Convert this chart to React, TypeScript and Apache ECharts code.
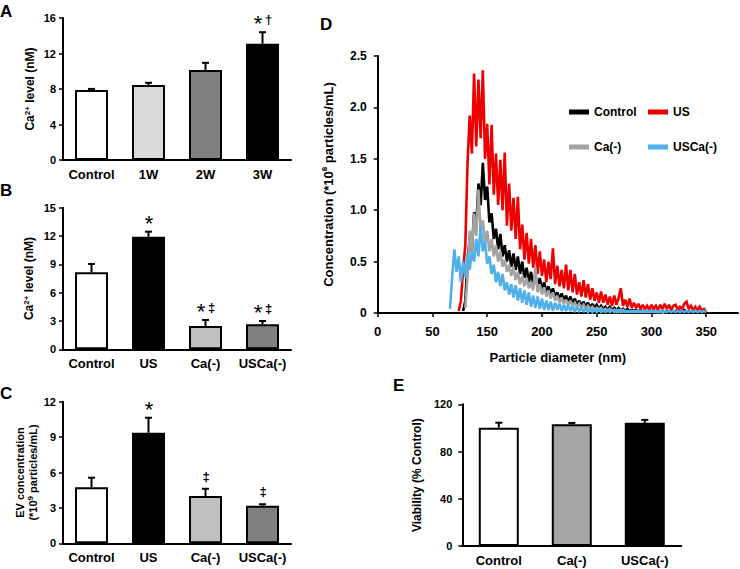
import React, { useEffect, useRef } from "react";
import * as echarts from "echarts";

const FONT = "'Liberation Sans', Arial, Helvetica, sans-serif";

// ---------- Panel A ----------
const catsA = ["Control", "1W", "2W", "3W"];
const meanA = [7.88, 8.45, 10.15, 13.1];
const semA = [0.13, 0.25, 0.8, 1.3];
const sigA = ["", "", "", "*†"];
const fillA = ["#ffffff", "#d9d9d9", "#808080", "#000000"];

// ---------- Panel B ----------
const catsB = ["Control", "US", "Ca(-)", "USCa(-)"];
const meanB = [8.16, 11.93, 2.47, 2.65];
const semB = [0.88, 0.53, 0.64, 0.35];
const sigB = ["", "*", "*‡", "*‡"];
const fillB = ["#ffffff", "#000000", "#c0c0c0", "#808080"];

// ---------- Panel C ----------
const catsC = ["Control", "US", "Ca(-)", "USCa(-)"];
const meanC = [4.75, 9.37, 4.0, 3.19];
const semC = [0.81, 1.27, 0.62, 0.12];
const sigC = ["", "*", "‡", "‡"];
const fillC = ["#ffffff", "#000000", "#c0c0c0", "#808080"];

// ---------- Panel E ----------
const catsE = ["Control", "Ca(-)", "USCa(-)"];
const meanE = [100.2, 103.0, 104.3];
const semE = [4.2, 1.2, 2.5];
const fillE = ["#ffffff", "#a6a6a6", "#000000"];

// ---------- Panel D ----------
const diamTickPos = [0, 50, 100, 150, 200, 250, 300];
const diamTickLabels = ["0", "50", "150", "200", "250", "300", "350"];
const binPos = [
  64, 66, 68, 70, 72, 74, 76, 78, 80, 82,
  84, 86, 88, 90, 92, 94, 96, 98, 100, 102,
  104, 106, 108, 110, 112, 114, 116, 118, 120, 122,
  124, 126, 128, 130, 132, 134, 136, 138, 140, 142,
  144, 146, 148, 150, 152, 154, 156, 158, 160, 162,
  164, 166, 168, 170, 172, 174, 176, 178, 180, 182,
  184, 186, 188, 190, 192, 194, 196, 198, 200, 202,
  204, 206, 208, 210, 212, 214, 216, 218, 220, 222,
  224, 226, 228, 230, 232, 234, 236, 238, 240, 242,
  244, 246, 248, 250, 252, 254, 256, 258, 260, 262,
  264, 266, 268, 270, 272, 274, 276, 278, 280, 282,
  284, 286, 288, 290, 292, 294, 296, 298, 300,
];
const concUS = [
  null, null, null, null, null, 0.02, 0.12, 0.42, 0.66, 1.45,
  1.92, 1.55, 2.33, 1.62, 2.27, 1.7, 2.36, 1.5, 1.84, 1.25,
  1.83, 1.15, 1.55, 1.05, 1.49, 1.0, 1.56, 0.85, 1.26, 0.8,
  1.12, 0.72, 1.13, 0.62, 0.86, 0.52, 0.78, 0.48, 0.72, 0.44,
  0.66, 0.38, 0.6, 0.36, 0.52, 0.3, 0.5, 0.33, 0.63, 0.28,
  0.46, 0.26, 0.42, 0.24, 0.47, 0.22, 0.42, 0.2, 0.38, 0.18,
  0.3, 0.16, 0.32, 0.15, 0.28, 0.13, 0.24, 0.12, 0.2, 0.1,
  0.21, 0.1, 0.18, 0.08, 0.16, 0.07, 0.17, 0.08, 0.15, 0.24,
  0.07, 0.13, 0.06, 0.14, 0.05, 0.1, 0.05, 0.09, 0.04, 0.08,
  0.04, 0.07, 0.03, 0.08, 0.04, 0.07, 0.03, 0.08, 0.04, 0.09,
  0.04, 0.08, 0.03, 0.07, 0.08, 0.03, 0.06, 0.04, 0.09, 0.11,
  0.04, 0.07, 0.03, 0.06, 0.03, 0.06, 0.02, 0.04, 0.01,
];
const concControl = [
  null, null, null, null, null, null, null, 0.02, 0.12, 0.5,
  0.72, 0.6, 0.98, 0.85, 1.26, 1.05, 1.46, 1.1, 1.23, 0.88,
  0.97, 0.72, 0.82, 0.62, 0.77, 0.55, 0.66, 0.5, 0.61, 0.45,
  0.58, 0.42, 0.55, 0.38, 0.5, 0.34, 0.44, 0.3, 0.4, 0.28,
  0.36, 0.25, 0.34, 0.22, 0.3, 0.2, 0.26, 0.18, 0.24, 0.16,
  0.2, 0.14, 0.19, 0.12, 0.17, 0.1, 0.16, 0.09, 0.14, 0.08,
  0.12, 0.07, 0.11, 0.06, 0.1, 0.05, 0.09, 0.05, 0.08, 0.04,
  0.07, 0.04, 0.06, 0.03, 0.06, 0.03, 0.05, 0.03, 0.05, 0.02,
  0.04, 0.02, 0.04, 0.02, 0.03, 0.02, 0.03, 0.01, 0.03, 0.01,
  0.03, 0.01, 0.02, 0.01, 0.03, 0.01, 0.02, 0.01, 0.02, 0.01,
  0.02, 0.01, 0.02, 0.01, 0.02, 0.01, 0.02, 0.01, 0.03, 0.01,
  0.02, 0.01, 0.02, 0.01, 0.01, null, null, null, null,
];
const concCa = [
  null, null, null, null, null, null, null, null, 0.05, 0.35,
  0.8, 0.6, 0.97, 0.75, 1.2, 0.8, 0.9, 0.68, 0.8, 0.6,
  0.72, 0.55, 0.66, 0.5, 0.6, 0.45, 0.52, 0.4, 0.47, 0.36,
  0.45, 0.32, 0.4, 0.28, 0.36, 0.26, 0.34, 0.24, 0.3, 0.22,
  0.45, 0.2, 0.28, 0.18, 0.25, 0.16, 0.22, 0.14, 0.2, 0.12,
  0.17, 0.1, 0.15, 0.09, 0.13, 0.08, 0.12, 0.07, 0.1, 0.06,
  0.09, 0.05, 0.08, 0.04, 0.07, 0.04, 0.06, 0.03, 0.05, 0.03,
  0.05, 0.02, 0.04, 0.02, 0.04, 0.02, 0.03, 0.01, 0.03, 0.01,
  0.03, 0.01, 0.02, 0.01, 0.02, 0.01, 0.02, 0.01, 0.02, 0.01,
  0.02, 0.01, 0.02, 0.01, 0.02, 0.01, 0.01, 0.01, 0.01, 0.0,
  null, null, null, null, null, null, null, null, null, null,
  null, null, null, null, null, null, null, null, null,
];
const concUSCa = [
  null, 0.04, 0.35, 0.62, 0.4, 0.55, 0.3, 0.5, 0.35, 0.58,
  0.42, 0.6, 0.5, 0.72, 0.55, 0.85, 0.6, 0.7, 0.48, 0.55,
  0.38, 0.47, 0.3, 0.4, 0.26, 0.38, 0.22, 0.3, 0.18, 0.28,
  0.15, 0.27, 0.12, 0.24, 0.1, 0.22, 0.08, 0.2, 0.06, 0.17,
  0.05, 0.16, 0.04, 0.14, 0.03, 0.12, 0.03, 0.11, 0.02, 0.1,
  0.03, 0.09, 0.02, 0.08, 0.02, 0.08, 0.02, 0.07, 0.01, 0.06,
  0.02, 0.05, 0.01, 0.05, 0.01, 0.04, 0.01, 0.04, 0.01, 0.04,
  0.01, 0.03, 0.01, 0.03, 0.01, 0.03, 0.01, 0.03, 0.01, 0.03,
  0.01, 0.02, 0.01, 0.02, 0.01, 0.02, 0.01, 0.02, 0.01, 0.02,
  0.01, 0.02, 0.01, 0.02, 0.01, 0.02, 0.01, 0.02, 0.01, 0.02,
  0.01, 0.02, 0.01, 0.02, 0.01, 0.02, 0.01, 0.02, 0.01, 0.02,
  0.01, 0.02, 0.01, 0.02, 0.01, 0.02, 0.01, 0.02, 0.01,
];
const seriesNamesD = ["Control", "US", "Ca(-)", "USCa(-)"];
const seriesColorsD = ["#000000", "#ee0000", "#a3a3a3", "#4fb0ea"];

const richSup = {
  sup: { fontSize: 8, fontWeight: "bold", fontFamily: FONT, verticalAlign: "top", lineHeight: 9 },
};

function sigRich(s: string) {
  return s
    .split("")
    .map((ch) => (ch === "*" ? "{star|*}" : `{dag|${ch}}`))
    .join("{sp| }");
}

function catAxis(gridIndex: number, cats: string[]) {
  return {
    type: "category",
    gridIndex,
    data: cats,
    axisLine: { show: true, lineStyle: { color: "#000", width: 2 } },
    axisTick: { show: false },
    axisLabel: { color: "#000", fontSize: 13, fontWeight: "bold", fontFamily: FONT, margin: 8, interval: 0 },
    splitLine: { show: false },
  };
}

function valAxis(gridIndex: number, max: number, interval: number, name: string, nameGap: number, nameSize: number, labelMargin: number) {
  return {
    type: "value",
    gridIndex,
    min: 0,
    max,
    interval,
    splitLine: { show: false },
    axisLine: { show: true, lineStyle: { color: "#000", width: 2 } },
    axisTick: { show: true, length: 4, lineStyle: { color: "#000", width: 1.5 } },
    axisLabel: { color: "#000", fontSize: 11, fontWeight: "bold", fontFamily: FONT, margin: labelMargin },
    name,
    nameLocation: "middle",
    nameGap,
    nameTextStyle: {
      color: "#000",
      fontSize: nameSize,
      fontWeight: "bold",
      fontFamily: FONT,
      lineHeight: nameSize + 2,
      rich: richSup,
    },
  };
}

function barSeries(g: number, means: number[], fills: string[], width: number) {
  return {
    type: "bar",
    xAxisIndex: g,
    yAxisIndex: g,
    barWidth: width,
    data: means.map((v, i) => ({ value: v, itemStyle: { color: fills[i] } })),
    itemStyle: { borderColor: "#000", borderWidth: 2 },
    z: 2,
  };
}

function errSeries(g: number, means: number[], sems: number[], sigs: string[] | null) {
  return {
    type: "custom",
    xAxisIndex: g,
    yAxisIndex: g,
    z: 3,
    itemStyle: { color: "#000" },
    data: means.map((v, i) => [i, v, v + sems[i]]),
    renderItem: (params: any, api: any) => {
      const i = api.value(0);
      const base = api.coord([i, api.value(1)]);
      const top = api.coord([i, api.value(2)]);
      const children: any[] = [
        { type: "line", shape: { x1: base[0], y1: base[1], x2: top[0], y2: top[1] }, style: { stroke: "#000", lineWidth: 2 } },
        { type: "line", shape: { x1: top[0] - 3.5, y1: top[1], x2: top[0] + 3.5, y2: top[1] }, style: { stroke: "#000", lineWidth: 2 } },
      ];
      const s = sigs ? sigs[params.dataIndex] : "";
      if (s) {
        children.push({
          type: "text",
          x: Math.round(top[0]),
          y: Math.round(top[1] - 13),
          style: {
            text: sigRich(s),
            fill: "#000",
            align: "center",
            verticalAlign: "middle",
            rich: {
              star: { fontSize: 22, fontFamily: FONT, fill: "#000", padding: [9, 0, 0, 0] },
              dag: { fontSize: 13, fontWeight: "bold", fontFamily: FONT, fill: "#000" },
              sp: { fontSize: 10, fontFamily: FONT, fill: "#000" },
            },
          },
        });
      }
      return { type: "group", children };
    },
  };
}

function legendAt(name: string, left: number, top: number) {
  return {
    data: [{ name, icon: "rect" }],
    left,
    top,
    padding: 0,
    itemWidth: 20,
    itemHeight: 5,
    textStyle: { color: "#000", fontSize: 12, fontWeight: "bold", fontFamily: FONT },
    selectedMode: false,
  };
}

function letter(t: string, x: number, y: number) {
  return {
    type: "text",
    x,
    y,
    style: { text: t, fontSize: 17, fontWeight: "bold", fontFamily: FONT, fill: "#000", verticalAlign: "middle" },
  };
}

export default function App() {
  const ref = useRef<HTMLDivElement>(null);
  useEffect(() => {
    if (!ref.current) return;
    const chart = echarts.init(ref.current, null, { renderer: "svg" });
    const dSeriesData = [concControl, concUS, concCa, concUSCa];
    const drawOrder = [1, 0, 2, 3];
    const option: any = {
      animation: false,
      backgroundColor: "#ffffff",
      textStyle: { fontFamily: FONT, color: "#000" },
      grid: [
        { left: 63, top: 18, width: 228, height: 142, outerBoundsMode: "none" },
        { left: 63, top: 207.7, width: 228, height: 141.6, outerBoundsMode: "none" },
        { left: 63, top: 401.7, width: 228, height: 141.6, outerBoundsMode: "none" },
        { left: 377.7, top: 56, width: 360.3, height: 257, outerBoundsMode: "none" },
        { left: 462.3, top: 404.3, width: 219, height: 141.7, outerBoundsMode: "none" },
      ],
      xAxis: [
        catAxis(0, catsA),
        catAxis(1, catsB),
        catAxis(2, catsC),
        {
          type: "value",
          gridIndex: 3,
          min: 0,
          max: 329,
          splitLine: { show: false },
          axisLine: { show: true, lineStyle: { color: "#000", width: 2 } },
          axisTick: { show: true, length: 4, customValues: diamTickPos, lineStyle: { color: "#000", width: 1.5 } },
          axisLabel: {
            customValues: diamTickPos,
            color: "#000",
            fontSize: 13,
            fontWeight: "bold",
            fontFamily: FONT,
            margin: 12,
            formatter: (v: number) => {
              const k = diamTickPos.indexOf(Math.round(v));
              return k >= 0 ? diamTickLabels[k] : "";
            },
          },
          name: "Particle diameter (nm)",
          nameLocation: "middle",
          nameGap: 38,
          nameTextStyle: { color: "#000", fontSize: 13, fontWeight: "bold", fontFamily: FONT },
        },
        catAxis(4, catsE),
      ],
      yAxis: [
        valAxis(0, 16, 4, "Ca{sup|2+} level (nM)", 26, 12, 7),
        valAxis(1, 15, 3, "Ca{sup|2+} level (nM)", 27, 12, 7),
        valAxis(2, 12, 3, "EV concentration\n(*10{sup|9} particles/mL)", 19, 11, 7),
        {
          ...valAxis(3, 2.5, 0.5, "Concentration (*10{sup|8} particles/mL)", 42, 13, 11),
          axisLabel: {
            color: "#000",
            fontSize: 12,
            fontWeight: "bold",
            fontFamily: FONT,
            margin: 11,
            formatter: (v: number) => (v === 0 ? "0" : v.toFixed(1)),
          },
        },
        valAxis(4, 120, 40, "Viability (% Control)", 38, 12, 10),
      ],
      legend: [
        legendAt("Control", 569, 106),
        legendAt("US", 648, 106),
        legendAt("Ca(-)", 569, 141),
        legendAt("USCa(-)", 648, 141),
      ],
      graphic: [
        letter("A", 0, 11),
        letter("B", 0, 190),
        letter("C", 0, 393),
        letter("D", 320, 24),
        letter("E", 393, 385),
      ],
      series: [
        barSeries(0, meanA, fillA, 33),
        errSeries(0, meanA, semA, sigA),
        barSeries(1, meanB, fillB, 33),
        errSeries(1, meanB, semB, sigB),
        barSeries(2, meanC, fillC, 33),
        errSeries(2, meanC, semC, sigC),
        barSeries(4, meanE, fillE, 40),
        errSeries(4, meanE, semE, null),
        ...drawOrder.map((k) => ({
          type: "line",
          name: seriesNamesD[k],
          xAxisIndex: 3,
          yAxisIndex: 3,
          showSymbol: false,
          symbol: "none",
          color: seriesColorsD[k],
          lineStyle: { color: seriesColorsD[k], width: 2.6, join: "miter", miterLimit: 2 },
          data: binPos.map((x, i) => [x, dSeriesData[k][i]]),
          z: 2 + k,
        })),
      ],
    };
    chart.setOption(option);
    return () => chart.dispose();
  }, []);
  return (
    <div
      ref={ref}
      style={{ position: "fixed", left: 0, top: 0, width: 740, height: 569, background: "#fff" }}
    />
  );
}
